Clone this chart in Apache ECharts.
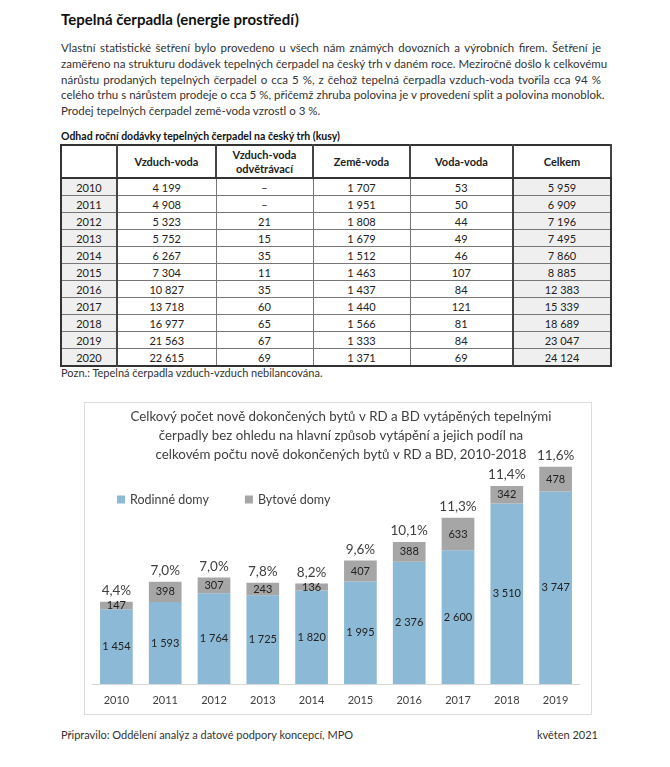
<!DOCTYPE html>
<html><head><meta charset="utf-8">
<script src="https://cdn.jsdelivr.net/npm/echarts@6/dist/echarts.min.js"></script>
<style>
html,body{margin:0;padding:0;background:#fff;}
body{width:670px;height:767px;position:relative;font-family:Lato,"Open Sans",sans-serif;color:#222;overflow:hidden;}
#h1{position:absolute;left:61px;top:10px;font-size:15px;font-weight:bold;color:#111;}
#para{position:absolute;left:61px;top:40px;width:540px;font-size:11.5px;line-height:15.8px;color:#333;}
#para div{text-align:justify;text-align-last:justify;white-space:nowrap;}
#para div.last{text-align-last:left;}
#cap{position:absolute;left:61px;top:130px;font-size:10.5px;font-weight:bold;color:#111;}
#tbl{position:absolute;left:60px;top:144px;border-collapse:collapse;font-size:11px;color:#222;table-layout:fixed;border:2px solid #333;}
#tbl td,#tbl th{border:1px solid #777;text-align:center;padding:0;height:16px;line-height:15px;}
#tbl th{height:31px;font-weight:bold;line-height:14px;border-bottom:2px solid #333;border-right:2px solid #444;}
#tbl td.y,#tbl td.c{background:#efefef;}
#tbl td.y{border-right:2px solid #444;}
#tbl td.c{border-left:2px solid #444;}
#pozn{position:absolute;left:61px;top:366px;font-size:11px;color:#333;}
#chart{position:absolute;left:84px;top:402px;width:508px;height:313px;border:1px solid #dcdcdc;box-sizing:border-box;}
#foot1{position:absolute;left:61px;top:728px;font-size:11px;color:#333;}
#foot2{position:absolute;right:72px;top:728px;font-size:11px;color:#333;}
</style></head>
<body>
<div id="h1">Tepelná čerpadla (energie prostředí)</div>
<div id="para">
<div>Vlastní statistické šetření bylo provedeno u všech nám známých dovozních a výrobních firem. Šetření je</div>
<div>zaměřeno na strukturu dodávek tepelných čerpadel na český trh v daném roce. Meziročně došlo k celkovému</div>
<div>nárůstu prodaných tepelných čerpadel o cca 5 %, z čehož tepelná čerpadla vzduch-voda tvořila cca 94 %</div>
<div>celého trhu s nárůstem prodeje o cca 5 %, přičemž zhruba polovina je v provedení split a polovina monoblok.</div>
<div class="last">Prodej tepelných čerpadel země-voda vzrostl o 3 %.</div>
</div>
<div id="cap">Odhad roční dodávky tepelných čerpadel na český trh (kusy)</div>
<table id="tbl"></table>
<div id="pozn">Pozn.: Tepelná čerpadla vzduch-vzduch nebilancována.</div>
<div id="chart"></div>
<div id="foot1">Připravilo: Oddělení analýz a datové podpory koncepcí, MPO</div>
<div id="foot2">květen 2021</div>
<script>
// Table data
const tableHeaders = ["", "Vzduch-voda", "Vzduch-voda<br>odvětrávací", "Země-voda", "Voda-voda", "Celkem"];
const tableYears = [2010, 2011, 2012, 2013, 2014, 2015, 2016, 2017, 2018, 2019, 2020];
const vzduchVoda = [4199, 4908, 5323, 5752, 6267, 7304, 10827, 13718, 16977, 21563, 22615];
const vzduchVodaOdv = [null, null, 21, 15, 35, 11, 35, 60, 65, 67, 69];
const zemeVoda = [1707, 1951, 1808, 1679, 1512, 1463, 1437, 1440, 1566, 1333, 1371];
const vodaVoda = [53, 50, 44, 49, 46, 107, 84, 121, 81, 84, 69];
const celkem = [5959, 6909, 7196, 7495, 7860, 8885, 12383, 15339, 18689, 23047, 24124];

// Chart data
const chartTitle = "Celkový počet nově dokončených bytů v RD a BD vytápěných tepelnými\nčerpadly bez ohledu na hlavní způsob vytápění a jejich podíl na\ncelkovém počtu nově dokončených bytů v RD a BD, 2010-2018";
const chartYears = ["2010","2011","2012","2013","2014","2015","2016","2017","2018","2019"];
const rodinneDomy = [1454, 1593, 1764, 1725, 1820, 1995, 2376, 2600, 3510, 3747];
const bytoveDomy = [147, 398, 307, 243, 136, 407, 388, 633, 342, 478];
const podil = [4.4, 7.0, 7.0, 7.8, 8.2, 9.6, 10.1, 11.3, 11.4, 11.6];

function fmt(n){ if(n===null) return "–"; return String(n).replace(/\B(?=(\d{3})+(?!\d))/g, " "); }

const colW = [56, 99, 97, 97, 103, 98];
let html = "<colgroup>" + colW.map(w => '<col style="width:'+w+'px">').join("") + "</colgroup>";
html += "<tr>" + tableHeaders.map(h => "<th>"+h+"</th>").join("") + "</tr>";
tableYears.forEach((y,i) => {
  html += '<tr><td class="y">'+y+'</td><td>'+fmt(vzduchVoda[i])+'</td><td>'+fmt(vzduchVodaOdv[i])+'</td><td>'+fmt(zemeVoda[i])+'</td><td>'+fmt(vodaVoda[i])+'</td><td class="c">'+fmt(celkem[i])+'</td></tr>';
});
document.getElementById("tbl").innerHTML = html;

const chart = echarts.init(document.getElementById("chart"));
const ff = "Lato, 'Open Sans', sans-serif";
chart.setOption({
  animation: false,
  textStyle: {fontFamily: ff},
  graphic: [{
    type: "text", x: 256, y: 4,
    style: {text: chartTitle, align: "center", verticalAlign: "top",
      font: "13.3px " + ff, lineHeight: 19, fill: "#404040"}
  }],
  legend: {
    left: 27, top: 85, itemWidth: 8, itemHeight: 8, itemGap: 36, icon: "rect",
    textStyle: {fontSize: 12.5, color: "#404040", fontFamily: ff},
    data: ["Rodinné domy", "Bytové domy"]
  },
  grid: {left: 7, right: 11, top: 24, bottom: 30},
  xAxis: {
    type: "category", data: chartYears,
    axisLine: {lineStyle: {color: "#d9d9d9"}}, axisTick: {show: false},
    axisLabel: {fontSize: 11, color: "#404040", margin: 11, fontFamily: ff}
  },
  yAxis: {type: "value", min: 0, max: 5000, show: false, splitLine: {show: false}},
  series: [
    {name: "Rodinné domy", type: "bar", stack: "a", data: rodinneDomy, barWidth: "67%",
     itemStyle: {color: "#8cb9d5"},
     label: {show: true, position: "inside", fontSize: 11, color: "#222", fontFamily: ff,
       formatter: p => fmt(p.value)}},
    {name: "Bytové domy", type: "bar", stack: "a", data: bytoveDomy, barWidth: "67%",
     itemStyle: {color: "#a6a6a6"},
     label: {show: true, position: "inside", fontSize: 11, color: "#222", fontFamily: ff,
       formatter: p => fmt(p.value)}},
    {name: "podil", type: "bar", stack: "a", data: bytoveDomy.map(()=>0), barWidth: "67%",
     itemStyle: {color: "transparent"}, silent: true,
     label: {show: true, position: "top", distance: 4, fontSize: 13.5, color: "#404040", fontFamily: ff,
       formatter: p => podil[p.dataIndex].toFixed(1).replace(".", ",") + "%"}}
  ]
});
</script>
</body></html>
